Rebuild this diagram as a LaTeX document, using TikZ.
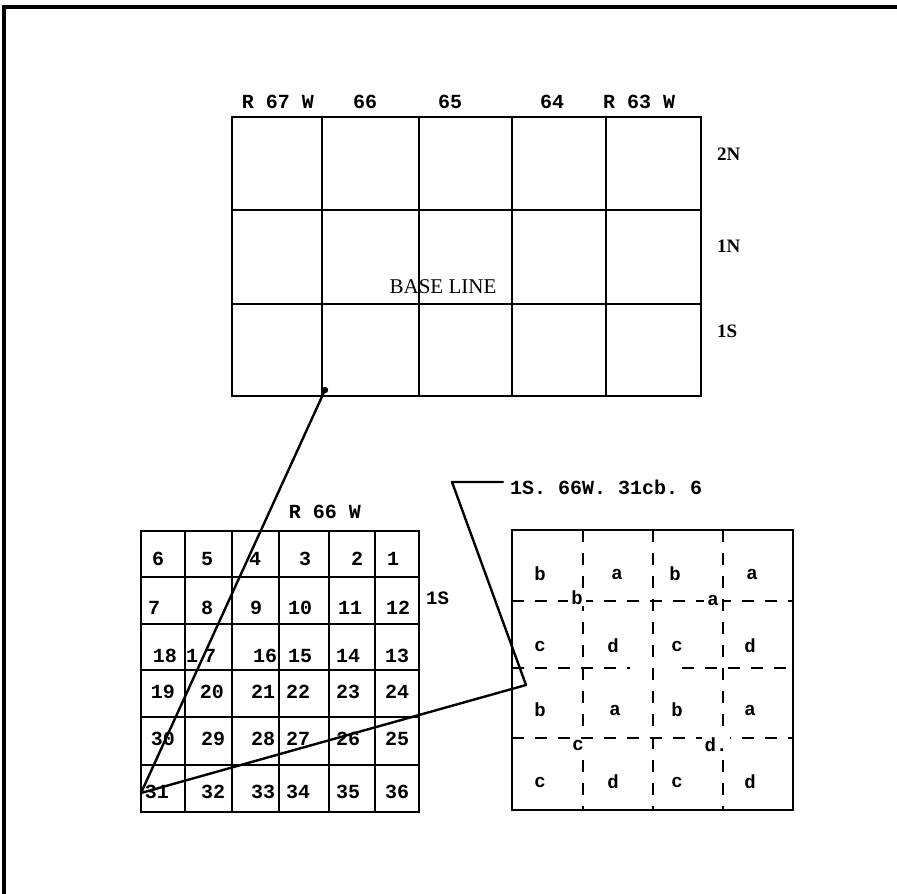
\documentclass[tikz,border=0pt]{standalone}
\usepackage{fontspec}
\setmonofont{Liberation Mono}
\newfontfamily\serifx{Liberation Serif}
\begin{document}
\begin{tikzpicture}[x=1pt,y=-1pt,
  gridl/.style={line width=2.4pt, line cap=rect},
  framel/.style={line width=3.2pt},
  conn/.style={line width=2.4pt, line join=round, line cap=round},
  dline/.style={line width=2.2pt, dash pattern=on 12pt off 11pt},
  num/.style={font=\fontsize{20}{24}\selectfont\ttfamily\bfseries, inner sep=0pt},
  lbl/.style={font=\fontsize{20}{24}\selectfont\ttfamily\bfseries, inner sep=0pt},
  side/.style={font=\fontsize{19}{22}\selectfont\serifx\bfseries, inner sep=0pt, anchor=west},
  letr/.style={font=\fontsize{19}{22}\selectfont\ttfamily\bfseries, inner sep=0pt},
  onl/.style={letr, fill=white, inner xsep=3pt, inner ysep=1pt}
]
\useasboundingbox (0,0) rectangle (897,894);
\fill[white] (0,0) rectangle (897,894);
% frame
\draw[framel] (4,900) -- (4,7) -- (900,7);

% top grid
\foreach \x in {232,322,419,512,606,701} \draw[gridl] (\x,117) -- (\x,396);
\foreach \y in {117,210,304,396} \draw[gridl] (232,\y) -- (701,\y);
\node[lbl] (t67) at (278,102) {R 67 W};
\node[lbl] (t66) at (365,102) {66};
\node[lbl] (t65) at (450,102) {65};
\node[lbl] (t64) at (552,102) {64};
\node[lbl] (t63) at (639,102) {R 63 W};
\node[side] (s2n) at (717,154) {2N};
\node[side] (s1n) at (717,246) {1N};
\node[side] (s1s) at (717,331) {1S};
\node[font=\fontsize{21}{24}\selectfont\serifx, inner sep=0pt] (base) at (443,287) {BASE LINE};

% small grid
\foreach \x in {141,185,232,279,329,375,419} \draw[gridl] (\x,531) -- (\x,812);
\foreach \y in {531,577,624,670,717,765,812} \draw[gridl] (141,\y) -- (419,\y);
\node[lbl] (r66) at (325,512) {R 66 W};
\node[font=\fontsize{19}{22}\selectfont\ttfamily\bfseries, inner sep=0pt, anchor=west] (g1s) at (426,598) {1S};

\node[num] (n6) at (158,559) {6};
\node[num] (n5) at (207,559) {5};
\node[num] (n4) at (255,559) {4};
\node[num] (n3) at (305,559) {3};
\node[num] (n2) at (357,559) {2};
\node[num] (n1) at (393,559) {1};
\node[num] (n7) at (154,608) {7};
\node[num] (n8) at (207,608) {8};
\node[num] (n9) at (256,608) {9};
\node[num] (n10) at (300,608) {10};
\node[num] (n11) at (350,608) {11};
\node[num] (n12) at (398,608) {12};
\node[num] (n18) at (165,656) {18};
\node[num] (n17) at (201,656) {1\kern6pt 7};
\node[num] (n16) at (265,656) {16};
\node[num] (n15) at (300,656) {15};
\node[num] (n14) at (348,656) {14};
\node[num] (n13) at (397,656) {13};
\node[num] (n19) at (163,692) {19};
\node[num] (n20) at (212,692) {20};
\node[num] (n21) at (263,692) {21};
\node[num] (n22) at (298,692) {22};
\node[num] (n23) at (348,692) {23};
\node[num] (n24) at (397,692) {24};
\node[num] (n30) at (163,739) {30};
\node[num] (n29) at (213,739) {29};
\node[num] (n28) at (263,739) {28};
\node[num] (n27) at (298,739) {27};
\node[num] (n26) at (348,739) {26};
\node[num] (n25) at (397,739) {25};
\node[num] (n31) at (157,792) {31};
\node[num] (n32) at (213,792) {32};
\node[num] (n33) at (263,792) {33};
\node[num] (n34) at (298,792) {34};
\node[num] (n35) at (348,792) {35};
\node[num] (n36) at (397,792) {36};

% right grid (quarters)
\foreach \x in {583,653,723} \draw[dline] (\x,530) -- (\x,810);
\draw[dline] (512,601) -- (793,601);
\draw[dline] (512,668) -- (630,668);
\draw[dline] (682,668) -- (793,668);
\draw[dline] (512,738) -- (793,738);
\draw[gridl] (512,530) rectangle (793,810);

\node[letr] (q1) at (540,574) {b};
\node[letr] (q2) at (617,574) {a};
\node[letr] (q3) at (675,574) {b};
\node[letr] (q4) at (752,574) {a};
\node[onl] (qb) at (577,598) {b};
\node[onl] (qa) at (713,600) {a};
\node[letr] (q5) at (540,646) {c};
\node[letr] (q6) at (613,646) {d};
\node[letr] (q7) at (677,646) {c};
\node[letr] (q8) at (750,646) {d};
\node[letr] (q9) at (540,710) {b};
\node[letr] (q10) at (615,710) {a};
\node[letr] (q11) at (677,710) {b};
\node[letr] (q12) at (750,710) {a};
\node[onl] (qc) at (578,745) {c};
\node[onl] (qd) at (716,745) {d.};
\node[letr] (q13) at (540,782) {c};
\node[letr] (q14) at (613,782) {d};
\node[letr] (q15) at (677,782) {c};
\node[letr] (q16) at (750,782) {d};

% connectors
\coordinate (top) at (325,390);
\coordinate (cell) at (141,793);
\coordinate (kink) at (526,685);
\coordinate (lead) at (452,482);
\coordinate (leadend) at (503,482);
\node[lbl, anchor=west] (code) at (510,487) {1S. 66W. 31cb. 6};
\fill (top) circle (3.2pt);
\draw[conn] (top) -- (cell) -- (kink) -- (lead) -- (leadend);
\end{tikzpicture}
\end{document}
